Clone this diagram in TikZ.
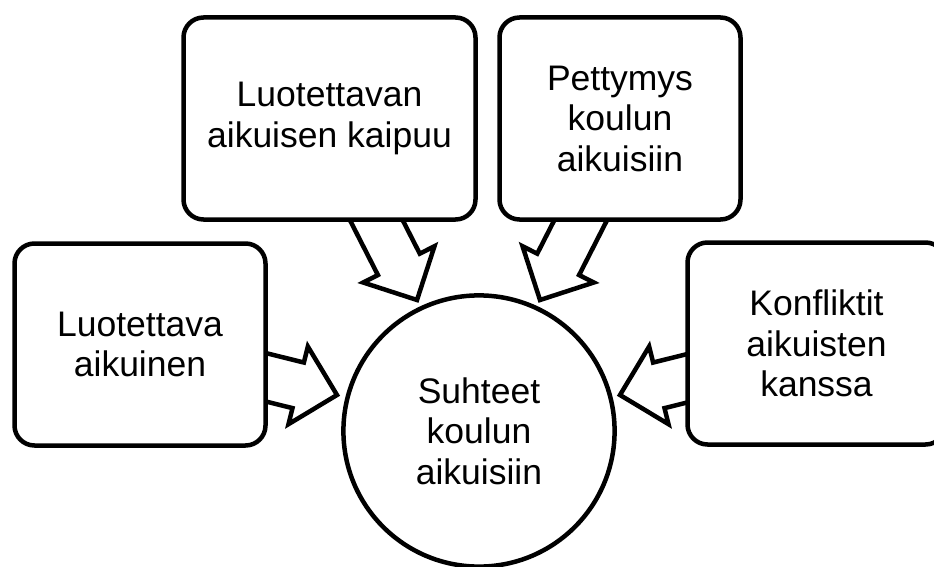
\documentclass[tikz,border=0pt]{standalone}
\usepackage{fontspec}
\setmainfont{Liberation Sans}
\begin{document}
\begin{tikzpicture}[x=1pt,y=-1pt,
  outline/.style={draw=black, line width=4.5pt, fill=white},
  label/.style={align=center, font=\fontsize{35.5}{40.5}\selectfont},
  box/.style={outline, label, rounded corners=20pt, inner sep=0pt, minimum height=202pt},
  hub/.style={outline, label, circle, inner sep=0pt, minimum size=270pt},
  blockarrow/.style={outline, line join=miter}
]
\clip (0,0) rectangle (934,567);
\useasboundingbox (0,0) rectangle (934,567);

% tips of the four block arrows
\coordinate (t1) at (417,300);
\coordinate (t2) at (540,300);
\coordinate (t3) at (337,395);
\coordinate (t4) at (620,395);

% block arrow: tip at the origin, pointing along +x, tail hidden under a box
\newcommand{\blockarrowat}[2]{%
  \begin{scope}[shift={(#1)}, rotate=#2]
    \draw[blockarrow] (0,0) -- (-40,40) -- (-40,23.5) -- (-115,23.5)
      -- (-115,-23.5) -- (-40,-23.5) -- (-40,-40) -- cycle;
  \end{scope}}
\blockarrowat{t1}{-63}
\blockarrowat{t2}{-117}
\blockarrowat{t3}{-14}
\blockarrowat{t4}{194}

% the four source boxes
\node[box, minimum width=292pt] (b1) at (329.5,118.5) {Luotettavan\\aikuisen kaipuu};
\node[box, minimum width=241pt] (b2) at (620,118.5) {Pettymys\\koulun\\aikuisiin};
\node[box, minimum width=251pt] (b3) at (140,344.5) {Luotettava\\aikuinen};
\node[box, minimum width=258pt] (b4) at (816.5,343.5) {Konfliktit\\aikuisten\\kanssa};

% the central circle
\node[hub] (c) at (479,431) {\raisebox{-9pt}{\parbox{250pt}{\centering Suhteet\\koulun\\aikuisiin}}};
\end{tikzpicture}
\end{document}
